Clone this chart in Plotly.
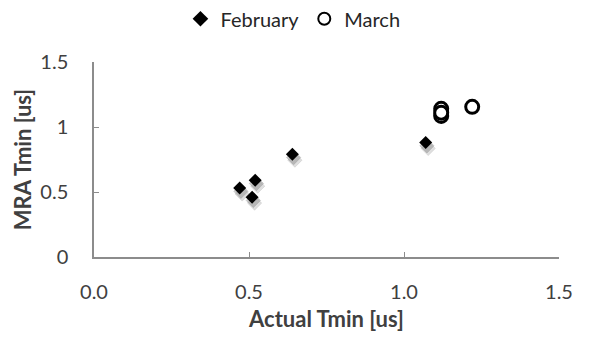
import plotly.graph_objects as go

# Minimum delay readings: actual vs. MRA estimate, in microseconds
feb_actual = [0.47, 0.52, 0.51, 0.64, 1.07]
feb_mra = [0.53, 0.59, 0.46, 0.79, 0.88]

mar_actual = [1.12, 1.12, 1.12, 1.22]
mar_mra = [1.14, 1.085, 1.11, 1.155]

x_ticks = [0.0, 0.5, 1.0, 1.5]
y_ticks = [0, 0.5, 1, 1.5]

FONT = "Lato"
AXIS_GREY = "#8c8c8c"
TEXT = "#404040"

fig = go.Figure()

# soft drop shadow under the February diamonds
for dx, dy, op in [(0.008, -0.045, 0.22), (0.004, -0.025, 0.35)]:
    fig.add_trace(go.Scatter(
        x=[v + dx for v in feb_actual], y=[v + dy for v in feb_mra],
        mode="markers", showlegend=False, hoverinfo="skip",
        marker=dict(symbol="diamond", size=11, color="rgba(110,110,110,%s)" % op,
                    line=dict(width=1, color="rgba(150,150,150,%s)" % op)),
    ))

fig.add_trace(go.Scatter(
    x=feb_actual, y=feb_mra, mode="markers", name="February",
    marker=dict(symbol="diamond", size=10, color="black", line=dict(width=0)),
))

fig.add_trace(go.Scatter(
    x=mar_actual, y=mar_mra, mode="markers", name="March",
    marker=dict(symbol="circle", size=13, color="white",
                line=dict(width=3, color="black")),
))

fig.update_layout(
    width=593, height=341,
    margin=dict(l=94, r=34, t=62, b=84, autoexpand=False),
    paper_bgcolor="white", plot_bgcolor="white",
    font=dict(family=FONT, size=20, color=TEXT),
    showlegend=True,
    legend=dict(orientation="h", xref="container", yref="container",
                x=0.494, xanchor="center", y=0.945, yanchor="middle",
                font=dict(family=FONT, size=20, color="#262626"),
                itemsizing="constant", tracegroupgap=0, itemwidth=30),
)

fig.update_xaxes(
    range=[0, 1.5], tickvals=x_ticks, tickformat=".1f",
    showline=True, linecolor=AXIS_GREY, linewidth=1.5,
    ticks="inside", ticklen=5, tickcolor=AXIS_GREY,
    showgrid=False, zeroline=False, ticklabelstandoff=16,
    tickfont=dict(family=FONT, size=20, color=TEXT),
    title=dict(text="<b>Actual Tmin [us]</b>", standoff=10,
               font=dict(family=FONT, size=22, color=TEXT)),
)
fig.update_yaxes(
    range=[0, 1.5], tickvals=y_ticks, ticktext=["0", "0.5", "1", "1.5"],
    showline=True, linecolor=AXIS_GREY, linewidth=1.5,
    ticks="inside", ticklen=5, tickcolor=AXIS_GREY,
    showgrid=False, zeroline=False, ticklabelstandoff=20,
    tickfont=dict(family=FONT, size=20, color=TEXT),
    title=dict(text="<b>MRA Tmin [us]</b>", standoff=3,
               font=dict(family=FONT, size=22, color=TEXT)),
)

fig.write_html("out.html")
